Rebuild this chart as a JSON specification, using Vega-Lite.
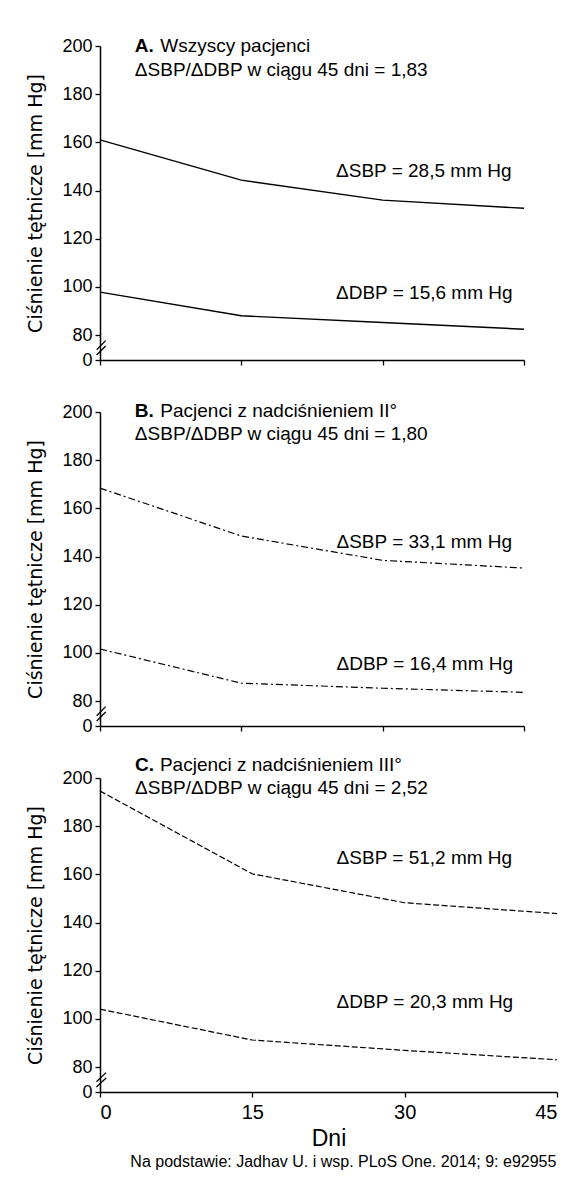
{
  "$schema": "https://vega.github.io/schema/vega-lite/v6.json",
  "background": "white",
  "padding": {"left": 26, "top": 37, "right": 5, "bottom": 5},
  "datasets": {
    "lines": [
      {"panel": "A", "series": "SBP", "day": 0, "value": 161},
      {"panel": "A", "series": "SBP", "day": 15, "value": 144.3},
      {"panel": "A", "series": "SBP", "day": 30, "value": 136},
      {"panel": "A", "series": "SBP", "day": 45, "value": 132.6},
      {"panel": "A", "series": "DBP", "day": 0, "value": 97.8},
      {"panel": "A", "series": "DBP", "day": 15, "value": 88},
      {"panel": "A", "series": "DBP", "day": 30, "value": 85.2},
      {"panel": "A", "series": "DBP", "day": 45, "value": 82.4},
      {"panel": "B", "series": "SBP", "day": 0, "value": 168.4},
      {"panel": "B", "series": "SBP", "day": 15, "value": 148.5},
      {"panel": "B", "series": "SBP", "day": 30, "value": 138.4},
      {"panel": "B", "series": "SBP", "day": 45, "value": 135.2},
      {"panel": "B", "series": "DBP", "day": 0, "value": 101.6},
      {"panel": "B", "series": "DBP", "day": 15, "value": 87.4},
      {"panel": "B", "series": "DBP", "day": 30, "value": 85.3},
      {"panel": "B", "series": "DBP", "day": 45, "value": 83.6},
      {"panel": "C", "series": "SBP", "day": 0, "value": 194.6},
      {"panel": "C", "series": "SBP", "day": 15, "value": 160.2},
      {"panel": "C", "series": "SBP", "day": 30, "value": 148.2},
      {"panel": "C", "series": "SBP", "day": 45, "value": 143.7},
      {"panel": "C", "series": "DBP", "day": 0, "value": 104},
      {"panel": "C", "series": "DBP", "day": 15, "value": 91.2},
      {"panel": "C", "series": "DBP", "day": 30, "value": 86.9},
      {"panel": "C", "series": "DBP", "day": 45, "value": 83}
    ],
    "labels": [
      {"panel": "A", "kind": "bold", "text": "A.", "day": 3.7, "value": 200},
      {"panel": "A", "kind": "normal", "text": "Wszyscy pacjenci", "day": 6.4, "value": 200},
      {"panel": "A", "kind": "normal", "text": "ΔSBP/ΔDBP w ciągu 45 dni = 1,83", "day": 3.7, "value": 190},
      {"panel": "A", "kind": "normal", "text": "ΔSBP = 28,5 mm Hg", "day": 25.05, "value": 148},
      {"panel": "A", "kind": "normal", "text": "ΔDBP = 15,6 mm Hg", "day": 25.05, "value": 97.5},
      {"panel": "B", "kind": "bold", "text": "B.", "day": 3.7, "value": 200.6},
      {"panel": "B", "kind": "normal", "text": "Pacjenci z nadciśnieniem II°", "day": 6.4, "value": 200.6},
      {"panel": "B", "kind": "normal", "text": "ΔSBP/ΔDBP w ciągu 45 dni = 1,80", "day": 3.7, "value": 191},
      {"panel": "B", "kind": "normal", "text": "ΔSBP = 33,1 mm Hg", "day": 25.1, "value": 146.1},
      {"panel": "B", "kind": "normal", "text": "ΔDBP = 16,4 mm Hg", "day": 25.1, "value": 95.5},
      {"panel": "C", "kind": "bold", "text": "C.", "day": 3.45, "value": 205.5},
      {"panel": "C", "kind": "normal", "text": "Pacjenci z nadciśnieniem III°", "day": 5.9, "value": 205.5},
      {"panel": "C", "kind": "normal", "text": "ΔSBP/ΔDBP w ciągu 45 dni = 2,52", "day": 3.45, "value": 195.8},
      {"panel": "C", "kind": "normal", "text": "ΔSBP = 51,2 mm Hg", "day": 23.3, "value": 166.9},
      {"panel": "C", "kind": "normal", "text": "ΔDBP = 20,3 mm Hg", "day": 23.3, "value": 106.8}
    ],
    "breaks": [
      {"day": -0.35, "value": 33, "day2": 0.6, "value2": 62},
      {"day": -0.35, "value": 16, "day2": 0.6, "value2": 45}
    ]
  },
  "spacing": 52,
  "bounds": "flush",
  "vconcat": [
    {
      "width": 424,
      "height": 314,
      "layer": [
        {
          "data": {"name": "lines"},
          "transform": [{"filter": "datum.panel === 'A'"}],
          "mark": {"type": "line", "color": "black", "strokeWidth": 1.4},
          "encoding": {
            "x": {"field": "day", "type": "quantitative", "scale": {"domain": [0, 45], "nice": false, "zero": false}, "axis": {"values": [0, 15, 30, 45], "labels": false, "title": null, "tickSize": 5}},
            "y": {"field": "value", "type": "quantitative", "scale": {"domain": [0, 80, 200], "range": [314, 289, 0], "nice": false, "zero": false}, "axis": {"values": [0, 80, 100, 120, 140, 160, 180, 200], "title": "Ciśnienie tętnicze [mm Hg]", "tickSize": 5, "labelPadding": 3, "titlePadding": 16}},
            "detail": {"field": "series"}
          }
        },
        {
          "data": {"name": "labels"},
          "transform": [{"filter": "datum.panel === 'A' && datum.kind === 'normal'"}],
          "mark": {"type": "text", "align": "left", "baseline": "middle"},
          "encoding": {"x": {"field": "day", "type": "quantitative"}, "y": {"field": "value", "type": "quantitative"}, "text": {"field": "text"}}
        },
        {
          "data": {"name": "labels"},
          "transform": [{"filter": "datum.panel === 'A' && datum.kind === 'bold'"}],
          "mark": {"type": "text", "align": "left", "baseline": "middle", "fontWeight": "bold"},
          "encoding": {"x": {"field": "day", "type": "quantitative"}, "y": {"field": "value", "type": "quantitative"}, "text": {"field": "text"}}
        },
        {
          "data": {"name": "breaks"},
          "mark": {"type": "rule", "color": "black", "strokeWidth": 1.3},
          "encoding": {"x": {"field": "day", "type": "quantitative"}, "y": {"field": "value", "type": "quantitative"}, "x2": {"field": "day2"}, "y2": {"field": "value2"}}
        }
      ]
    },
    {
      "width": 424,
      "height": 314,
      "layer": [
        {
          "data": {"name": "lines"},
          "transform": [{"filter": "datum.panel === 'B'"}],
          "mark": {"type": "line", "color": "black", "strokeWidth": 1.2, "strokeDash": [7, 3, 2, 3]},
          "encoding": {
            "x": {"field": "day", "type": "quantitative", "scale": {"domain": [0, 45], "nice": false, "zero": false}, "axis": {"values": [0, 15, 30, 45], "labels": false, "title": null, "tickSize": 5}},
            "y": {"field": "value", "type": "quantitative", "scale": {"domain": [0, 80, 200], "range": [314, 289, 0], "nice": false, "zero": false}, "axis": {"values": [0, 80, 100, 120, 140, 160, 180, 200], "title": "Ciśnienie tętnicze [mm Hg]", "tickSize": 5, "labelPadding": 3, "titlePadding": 16}},
            "detail": {"field": "series"}
          }
        },
        {
          "data": {"name": "labels"},
          "transform": [{"filter": "datum.panel === 'B' && datum.kind === 'normal'"}],
          "mark": {"type": "text", "align": "left", "baseline": "middle"},
          "encoding": {"x": {"field": "day", "type": "quantitative"}, "y": {"field": "value", "type": "quantitative"}, "text": {"field": "text"}}
        },
        {
          "data": {"name": "labels"},
          "transform": [{"filter": "datum.panel === 'B' && datum.kind === 'bold'"}],
          "mark": {"type": "text", "align": "left", "baseline": "middle", "fontWeight": "bold"},
          "encoding": {"x": {"field": "day", "type": "quantitative"}, "y": {"field": "value", "type": "quantitative"}, "text": {"field": "text"}}
        },
        {
          "data": {"name": "breaks"},
          "mark": {"type": "rule", "color": "black", "strokeWidth": 1.3},
          "encoding": {"x": {"field": "day", "type": "quantitative"}, "y": {"field": "value", "type": "quantitative"}, "x2": {"field": "day2"}, "y2": {"field": "value2"}}
        }
      ]
    },
    {
      "width": 457,
      "height": 314,
      "layer": [
        {
          "data": {"name": "lines"},
          "transform": [{"filter": "datum.panel === 'C'"}],
          "mark": {"type": "line", "color": "black", "strokeWidth": 1.2, "strokeDash": [6, 2.5]},
          "encoding": {
            "x": {"field": "day", "type": "quantitative", "scale": {"domain": [0, 45], "nice": false, "zero": false}, "axis": {"values": [0, 15, 30, 45], "title": "Dni", "tickSize": 5, "labelPadding": 5, "labelFontSize": 20, "titleFont": "Liberation Sans", "titleFontSize": 23, "titlePadding": 5}},
            "y": {"field": "value", "type": "quantitative", "scale": {"domain": [0, 80, 200], "range": [314, 289, 0], "nice": false, "zero": false}, "axis": {"values": [0, 80, 100, 120, 140, 160, 180, 200], "title": "Ciśnienie tętnicze [mm Hg]", "tickSize": 5, "labelPadding": 3, "titlePadding": 16}},
            "detail": {"field": "series"}
          }
        },
        {
          "data": {"name": "labels"},
          "transform": [{"filter": "datum.panel === 'C' && datum.kind === 'normal'"}],
          "mark": {"type": "text", "align": "left", "baseline": "middle"},
          "encoding": {"x": {"field": "day", "type": "quantitative"}, "y": {"field": "value", "type": "quantitative"}, "text": {"field": "text"}}
        },
        {
          "data": {"name": "labels"},
          "transform": [{"filter": "datum.panel === 'C' && datum.kind === 'bold'"}],
          "mark": {"type": "text", "align": "left", "baseline": "middle", "fontWeight": "bold"},
          "encoding": {"x": {"field": "day", "type": "quantitative"}, "y": {"field": "value", "type": "quantitative"}, "text": {"field": "text"}}
        },
        {
          "data": {"name": "breaks"},
          "mark": {"type": "rule", "color": "black", "strokeWidth": 1.3},
          "encoding": {"x": {"field": "day", "type": "quantitative"}, "y": {"field": "value", "type": "quantitative"}, "x2": {"field": "day2"}, "y2": {"field": "value2"}}
        }
      ]
    }
  ],
  "title": {
    "text": "Na podstawie: Jadhav U. i wsp. PLoS One. 2014; 9: e92955",
    "orient": "bottom",
    "anchor": "end",
    "frame": "bounds",
    "dx": -3,
    "font": "Liberation Sans",
    "fontSize": 16,
    "fontWeight": "normal",
    "color": "black",
    "offset": 4
  },
  "config": {
    "view": {"stroke": null},
    "axis": {
      "grid": false,
      "domainColor": "black",
      "domainWidth": 1.5,
      "tickColor": "black",
      "tickWidth": 1.3,
      "labelColor": "black",
      "labelFont": "Liberation Sans",
      "labelFontSize": 18,
      "titleColor": "black",
      "titleFont": "DejaVu Sans",
      "titleFontSize": 19,
      "titleFontWeight": "normal"
    },
    "text": {"font": "Liberation Sans", "fontSize": 19, "color": "black"}
  }
}
